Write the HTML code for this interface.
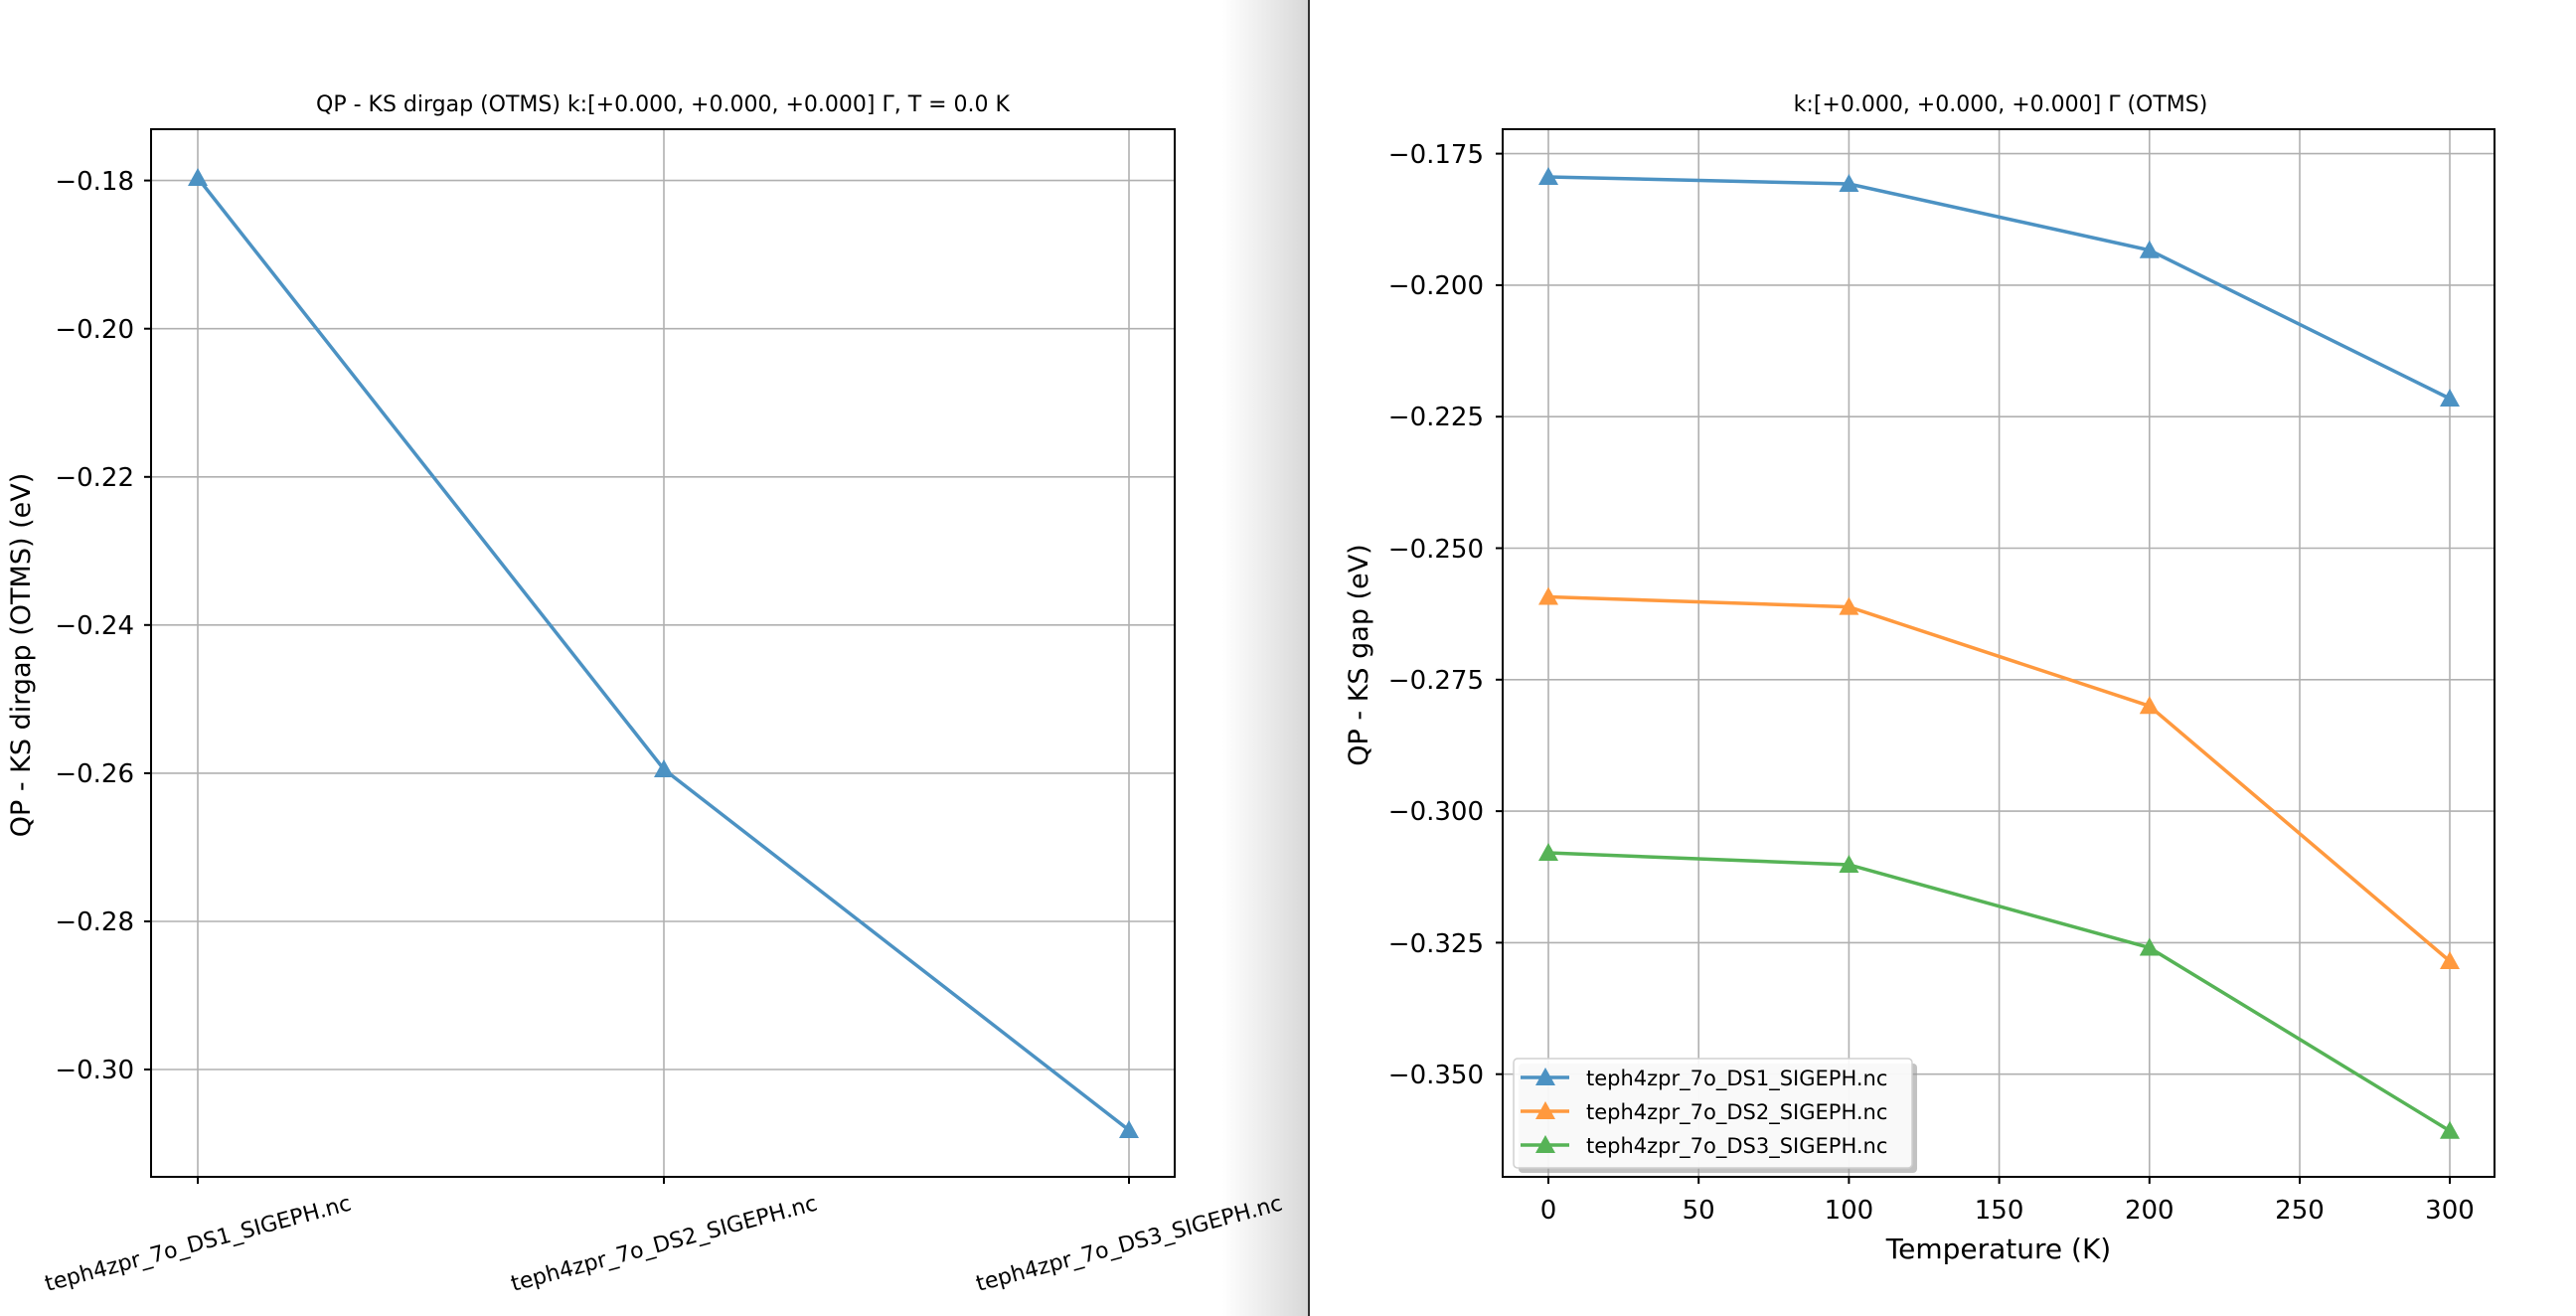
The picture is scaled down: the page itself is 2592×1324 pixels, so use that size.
<!DOCTYPE html>
<html><head><meta charset="utf-8"><style>
html,body{margin:0;padding:0;background:#fff;}
svg{display:block;font-family:"DejaVu Sans","Liberation Sans",sans-serif;}
</style></head><body>
<svg width="2592" height="1324" viewBox="0 0 2592 1324" xmlns="http://www.w3.org/2000/svg">
<defs>
<linearGradient id="sh" x1="0" x2="1" y1="0" y2="0">
<stop offset="0" stop-color="#ffffff"/><stop offset="1" stop-color="#d8d8d8"/>
</linearGradient>
<polygon id="tri" points="0,-10 10,8 -10,8"/>
</defs>
<rect x="0" y="0" width="2592" height="1324" fill="#fff"/>
<rect x="1230" y="0" width="86" height="1324" fill="url(#sh)"/>
<rect x="1316" y="0" width="2" height="1324" fill="#333"/>

<!-- LEFT PLOT -->
<g stroke="#b0b0b0" stroke-width="1.6">
<line x1="152" x2="1182" y1="181.6" y2="181.6"/>
<line x1="152" x2="1182" y1="330.7" y2="330.7"/>
<line x1="152" x2="1182" y1="479.8" y2="479.8"/>
<line x1="152" x2="1182" y1="628.8" y2="628.8"/>
<line x1="152" x2="1182" y1="777.9" y2="777.9"/>
<line x1="152" x2="1182" y1="927" y2="927"/>
<line x1="152" x2="1182" y1="1076" y2="1076"/>
<line x1="199" x2="199" y1="130" y2="1184"/>
<line x1="668" x2="668" y1="130" y2="1184"/>
<line x1="1136" x2="1136" y1="130" y2="1184"/>
</g>
<polyline points="199,179 668,774 1136,1137" fill="none" stroke="#4c92c3" stroke-width="3.5"/>
<g fill="#4c92c3"><use href="#tri" x="199" y="179"/><use href="#tri" x="668" y="774"/><use href="#tri" x="1136" y="1137"/></g>
<rect x="152" y="130" width="1030" height="1054" fill="none" stroke="#000" stroke-width="2"/>
<g stroke="#000" stroke-width="2">
<line x1="145" x2="152" y1="181.6" y2="181.6"/><line x1="145" x2="152" y1="330.7" y2="330.7"/>
<line x1="145" x2="152" y1="479.8" y2="479.8"/><line x1="145" x2="152" y1="628.8" y2="628.8"/>
<line x1="145" x2="152" y1="777.9" y2="777.9"/><line x1="145" x2="152" y1="927" y2="927"/>
<line x1="145" x2="152" y1="1076" y2="1076"/>
<line x1="199" x2="199" y1="1184" y2="1191"/><line x1="668" x2="668" y1="1184" y2="1191"/><line x1="1136" x2="1136" y1="1184" y2="1191"/>
</g>
<g font-size="26" text-anchor="end" fill="#000">
<text x="135" y="191">−0.18</text><text x="135" y="340">−0.20</text><text x="135" y="489">−0.22</text>
<text x="135" y="638">−0.24</text><text x="135" y="787">−0.26</text><text x="135" y="936">−0.28</text>
<text x="135" y="1085">−0.30</text>
</g>
<g font-size="22" text-anchor="middle" fill="#000">
<text transform="translate(201,1258) rotate(-15)">teph4zpr_7o_DS1_SIGEPH.nc</text>
<text transform="translate(670,1258) rotate(-15)">teph4zpr_7o_DS2_SIGEPH.nc</text>
<text transform="translate(1138,1258) rotate(-15)">teph4zpr_7o_DS3_SIGEPH.nc</text>
</g>
<text x="667" y="112" font-size="22" text-anchor="middle">QP - KS dirgap (OTMS) k:[+0.000, +0.000, +0.000] Γ, T = 0.0 K</text>
<text transform="translate(30,659) rotate(-90)" font-size="27" text-anchor="middle">QP - KS dirgap (OTMS) (eV)</text>

<!-- RIGHT PLOT -->
<g stroke="#b0b0b0" stroke-width="1.6">
<line x1="1512" x2="2510" y1="154.6" y2="154.6"/><line x1="1512" x2="2510" y1="286.9" y2="286.9"/>
<line x1="1512" x2="2510" y1="419.2" y2="419.2"/><line x1="1512" x2="2510" y1="551.5" y2="551.5"/>
<line x1="1512" x2="2510" y1="683.8" y2="683.8"/><line x1="1512" x2="2510" y1="816.1" y2="816.1"/>
<line x1="1512" x2="2510" y1="948.4" y2="948.4"/><line x1="1512" x2="2510" y1="1080.7" y2="1080.7"/>
<line x1="1558" x2="1558" y1="130" y2="1184"/><line x1="1709.2" x2="1709.2" y1="130" y2="1184"/>
<line x1="1860.4" x2="1860.4" y1="130" y2="1184"/><line x1="2011.6" x2="2011.6" y1="130" y2="1184"/>
<line x1="2162.8" x2="2162.8" y1="130" y2="1184"/><line x1="2314" x2="2314" y1="130" y2="1184"/>
<line x1="2465" x2="2465" y1="130" y2="1184"/>
</g>
<polyline points="1558,178 1860.4,185 2162.8,251.7 2465,401" fill="none" stroke="#4c92c3" stroke-width="3.5"/>
<polyline points="1558,600.5 1860.4,610.6 2162.8,710.3 2465,967" fill="none" stroke="#ff993e" stroke-width="3.5"/>
<polyline points="1558,858 1860.4,870 2162.8,953.5 2465,1137.7" fill="none" stroke="#56b356" stroke-width="3.5"/>
<g fill="#4c92c3"><use href="#tri" x="1558" y="178"/><use href="#tri" x="1860.4" y="185"/><use href="#tri" x="2162.8" y="251.7"/><use href="#tri" x="2465" y="401"/></g>
<g fill="#ff993e"><use href="#tri" x="1558" y="600.5"/><use href="#tri" x="1860.4" y="610.6"/><use href="#tri" x="2162.8" y="710.3"/><use href="#tri" x="2465" y="967"/></g>
<g fill="#56b356"><use href="#tri" x="1558" y="858"/><use href="#tri" x="1860.4" y="870"/><use href="#tri" x="2162.8" y="953.5"/><use href="#tri" x="2465" y="1137.7"/></g>
<!-- legend -->
<rect x="1528" y="1070" width="401" height="110" rx="4" fill="#999" opacity="0.6"/>
<rect x="1523" y="1065" width="401" height="110" rx="4" fill="#fff" fill-opacity="0.9" stroke="#d0d0d0" stroke-width="1.5"/>
<line x1="1530" x2="1579" y1="1084" y2="1084" stroke="#4c92c3" stroke-width="3.5"/><use href="#tri" x="1555" y="1084" fill="#4c92c3"/>
<line x1="1530" x2="1579" y1="1118" y2="1118" stroke="#ff993e" stroke-width="3.5"/><use href="#tri" x="1555" y="1118" fill="#ff993e"/>
<line x1="1530" x2="1579" y1="1152" y2="1152" stroke="#56b356" stroke-width="3.5"/><use href="#tri" x="1555" y="1152" fill="#56b356"/>
<g font-size="21" fill="#000">
<text x="1596" y="1092">teph4zpr_7o_DS1_SIGEPH.nc</text>
<text x="1596" y="1126">teph4zpr_7o_DS2_SIGEPH.nc</text>
<text x="1596" y="1160">teph4zpr_7o_DS3_SIGEPH.nc</text>
</g>
<rect x="1512" y="130" width="998" height="1054" fill="none" stroke="#000" stroke-width="2"/>
<g stroke="#000" stroke-width="2">
<line x1="1505" x2="1512" y1="154.6" y2="154.6"/><line x1="1505" x2="1512" y1="286.9" y2="286.9"/>
<line x1="1505" x2="1512" y1="419.2" y2="419.2"/><line x1="1505" x2="1512" y1="551.5" y2="551.5"/>
<line x1="1505" x2="1512" y1="683.8" y2="683.8"/><line x1="1505" x2="1512" y1="816.1" y2="816.1"/>
<line x1="1505" x2="1512" y1="948.4" y2="948.4"/><line x1="1505" x2="1512" y1="1080.7" y2="1080.7"/>
<line x1="1558" x2="1558" y1="1184" y2="1191"/><line x1="1709.2" x2="1709.2" y1="1184" y2="1191"/>
<line x1="1860.4" x2="1860.4" y1="1184" y2="1191"/><line x1="2011.6" x2="2011.6" y1="1184" y2="1191"/>
<line x1="2162.8" x2="2162.8" y1="1184" y2="1191"/><line x1="2314" x2="2314" y1="1184" y2="1191"/>
<line x1="2465" x2="2465" y1="1184" y2="1191"/>
</g>
<g font-size="26" text-anchor="end" fill="#000">
<text x="1493" y="164">−0.175</text><text x="1493" y="296">−0.200</text><text x="1493" y="428">−0.225</text>
<text x="1493" y="561">−0.250</text><text x="1493" y="693">−0.275</text><text x="1493" y="825">−0.300</text>
<text x="1493" y="958">−0.325</text><text x="1493" y="1090">−0.350</text>
</g>
<g font-size="26" text-anchor="middle" fill="#000">
<text x="1558" y="1226">0</text><text x="1709.2" y="1226">50</text><text x="1860.4" y="1226">100</text>
<text x="2011.6" y="1226">150</text><text x="2162.8" y="1226">200</text><text x="2314" y="1226">250</text>
<text x="2465" y="1226">300</text>
</g>
<text x="2011" y="1266" font-size="28" text-anchor="middle">Temperature (K)</text>
<text x="2013" y="112" font-size="22" text-anchor="middle">k:[+0.000, +0.000, +0.000] Γ (OTMS)</text>
<text transform="translate(1376,659) rotate(-90)" font-size="27" text-anchor="middle">QP - KS gap (eV)</text>
</svg>
</body></html>
